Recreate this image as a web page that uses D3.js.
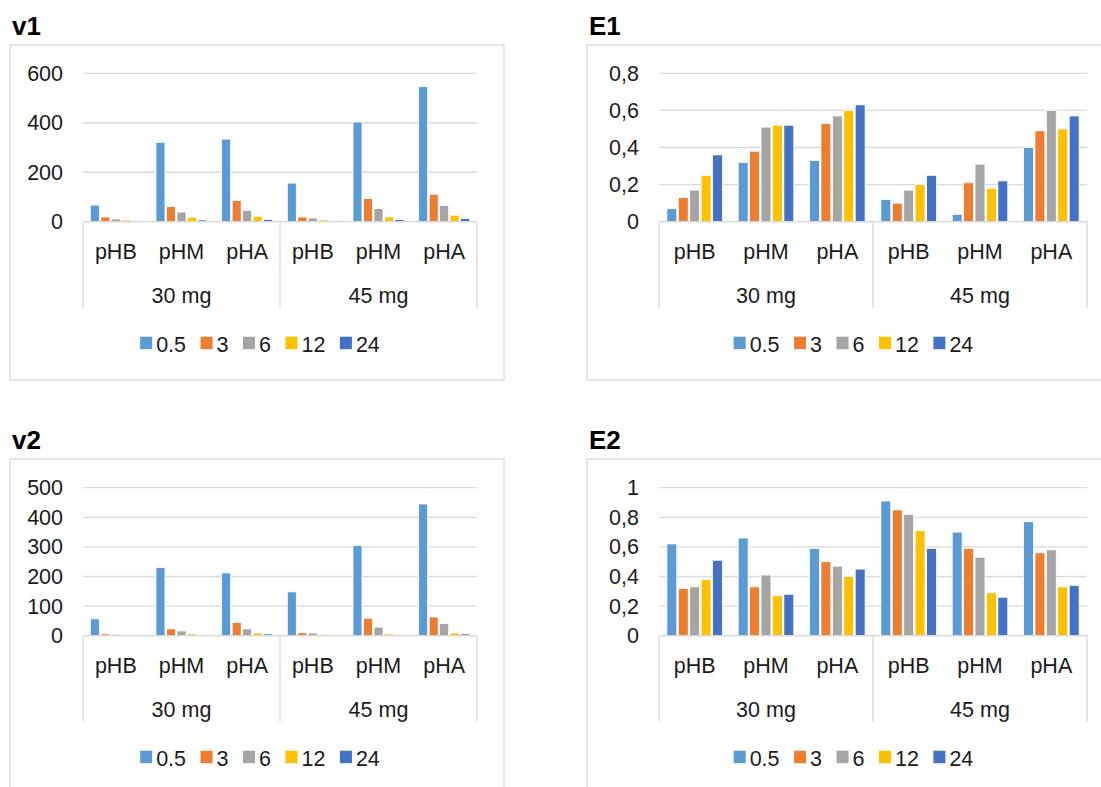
<!DOCTYPE html>
<html>
<head>
<meta charset="utf-8">
<script src="https://cdn.jsdelivr.net/npm/d3@7"></script>
<style>
  html, body { margin: 0; padding: 0; background: #fff; }
  svg { display: block; font-family: "Liberation Sans", Arial, sans-serif; }
</style>
</head>
<body>
<svg id="chart" width="1101" height="787"></svg>
<script>
// four clustered bar charts: v1, E1, v2, E2
const categories = ["pHB", "pHM", "pHA"];
const groups = ["30 mg", "45 mg"];
const series = ["0.5", "3", "6", "12", "24"];
const colors = ["#5b9bd5", "#ed7d31", "#a5a5a5", "#ffc000", "#4472c4"];

// rows = series, columns = pHB/pHM/pHA at 30 mg then at 45 mg
const v1Values = [
  [67, 321, 334, 156, 403, 546],
  [19, 61, 86, 19, 94, 111],
  [11, 39, 46, 15, 54, 66],
  [7, 18, 22, 7, 19, 26],
  [4, 7, 9, 4, 9, 13],
];
const e1Values = [
  [0.07, 0.32, 0.33, 0.12, 0.04, 0.40],
  [0.13, 0.38, 0.53, 0.10, 0.21, 0.49],
  [0.17, 0.51, 0.57, 0.17, 0.31, 0.60],
  [0.25, 0.52, 0.60, 0.20, 0.18, 0.50],
  [0.36, 0.52, 0.63, 0.25, 0.22, 0.57],
];
const v2Values = [
  [57, 230, 212, 148, 305, 445],
  [6, 23, 45, 10, 59, 63],
  [5, 16, 23, 9, 29, 41],
  [2, 6, 9, 5, 6, 9],
  [2, 2, 6, 2, 2, 6],
];
const e2Values = [
  [0.62, 0.66, 0.59, 0.91, 0.70, 0.77],
  [0.32, 0.33, 0.50, 0.85, 0.59, 0.56],
  [0.33, 0.41, 0.47, 0.82, 0.53, 0.58],
  [0.38, 0.27, 0.40, 0.71, 0.29, 0.33],
  [0.51, 0.28, 0.45, 0.59, 0.26, 0.34],
];

const v1Ticks = [0, 200, 400, 600];
const e1Ticks = [0, 0.2, 0.4, 0.6, 0.8];
const v2Ticks = [0, 100, 200, 300, 400, 500];
const e2Ticks = [0, 0.2, 0.4, 0.6, 0.8, 1];

const svg = d3.select("#chart");
const ink = "#1a1a1a";
const grid = "#d9d9d9";
const fontSize = 21.5;

const commaFmt = (v) => d3.format("~g")(+v.toFixed(2)).replace(".", ",");

const panels = [
  { title: "v1", values: v1Values, ticks: v1Ticks, fmt: d3.format("d"),
    box: [10, 45, 494, 335], x0: 83, x1: 477, yTop: 73.3, yZero: 221.7 },
  { title: "E1", values: e1Values, ticks: e1Ticks, fmt: commaFmt,
    box: [587, 45, 527, 335], x0: 659, x1: 1087, yTop: 73.3, yZero: 221.7 },
  { title: "v2", values: v2Values, ticks: v2Ticks, fmt: d3.format("d"),
    box: [10, 459, 494, 340], x0: 83, x1: 477, yTop: 487.7, yZero: 635.7 },
  { title: "E2", values: e2Values, ticks: e2Ticks, fmt: commaFmt,
    box: [587, 459, 527, 340], x0: 659, x1: 1087, yTop: 487.7, yZero: 635.7 },
];

panels.forEach(drawPanel);

function drawPanel(p) {
  const g = svg.append("g");
  const [bx, by, bw, bh] = p.box;

  g.append("rect")
    .attr("x", bx).attr("y", by).attr("width", bw).attr("height", bh)
    .attr("fill", "#fff").attr("stroke", grid).attr("stroke-width", 1.3);

  g.append("text")
    .attr("x", bx + 2).attr("y", by - 10)
    .attr("font-size", 26).attr("font-weight", "bold").attr("fill", "#000")
    .text(p.title);

  const slots = d3.range(groups.length * categories.length);
  const x = d3.scaleBand().domain(slots).range([p.x0, p.x1]);
  const xs = d3.scaleBand().domain(series).range([0, x.bandwidth()]).paddingOuter(0.625);
  const y = d3.scaleLinear().domain([0, d3.max(p.ticks)]).range([p.yZero, p.yTop]);

  // gridlines
  g.append("g").selectAll("line").data(p.ticks).join("line")
    .attr("x1", p.x0).attr("x2", p.x1)
    .attr("y1", (d) => y(d)).attr("y2", (d) => y(d))
    .attr("stroke", grid).attr("stroke-width", 1.3);

  // tick labels
  g.append("g").selectAll("text").data(p.ticks).join("text")
    .attr("x", p.x0 - 20).attr("y", (d) => y(d)).attr("dy", "0.35em")
    .attr("text-anchor", "end").attr("font-size", fontSize).attr("fill", ink)
    .text((d) => p.fmt(d));

  // bars
  p.values.forEach((row, si) => {
    g.append("g").selectAll("rect").data(row).join("rect")
      .attr("x", (d, i) => x(i) + xs(series[si]) + 0.75)
      .attr("width", xs.bandwidth() - 1.5)
      .attr("y", (d) => y(d))
      .attr("height", (d) => Math.max(0, p.yZero - y(d)))
      .attr("fill", colors[si])
      .attr("stroke", "#fff").attr("stroke-width", 0.8);
  });

  // axis line on top of bars bottom
  g.append("line")
    .attr("x1", p.x0).attr("x2", p.x1).attr("y1", p.yZero).attr("y2", p.yZero)
    .attr("stroke", grid).attr("stroke-width", 1.3);

  // group separators
  const sepX = [p.x0, x(categories.length), p.x1];
  g.append("g").selectAll("line").data(sepX).join("line")
    .attr("x1", (d) => d).attr("x2", (d) => d)
    .attr("y1", p.yZero).attr("y2", p.yZero + 86)
    .attr("stroke", grid).attr("stroke-width", 1.3);

  // category labels
  g.append("g").selectAll("text").data(slots).join("text")
    .attr("x", (d) => x(d) + x.bandwidth() / 2).attr("y", p.yZero + 37)
    .attr("text-anchor", "middle").attr("font-size", fontSize).attr("fill", ink)
    .text((d) => categories[d % categories.length]);

  // group labels
  g.append("g").selectAll("text").data(groups).join("text")
    .attr("x", (d, i) => x(i * categories.length) + x.bandwidth() * categories.length / 2)
    .attr("y", p.yZero + 81)
    .attr("text-anchor", "middle").attr("font-size", fontSize).attr("fill", ink)
    .text((d) => d);

  // legend
  const leg = g.append("g");
  let cx = 0;
  series.forEach((s, i) => {
    leg.append("rect")
      .attr("x", cx).attr("y", -15).attr("width", 12).attr("height", 12.5)
      .attr("fill", colors[i]);
    const t = leg.append("text")
      .attr("x", cx + 16).attr("y", 0)
      .attr("font-size", fontSize).attr("fill", ink).text(s);
    cx += 16 + t.node().getComputedTextLength() + 14.5;
  });
  const legW = cx - 14.5;
  const legX = bx + bw / 2 + 3 - legW / 2;
  leg.attr("transform", `translate(${legX},${p.yZero + 130})`);
}
</script>
</body>
</html>
